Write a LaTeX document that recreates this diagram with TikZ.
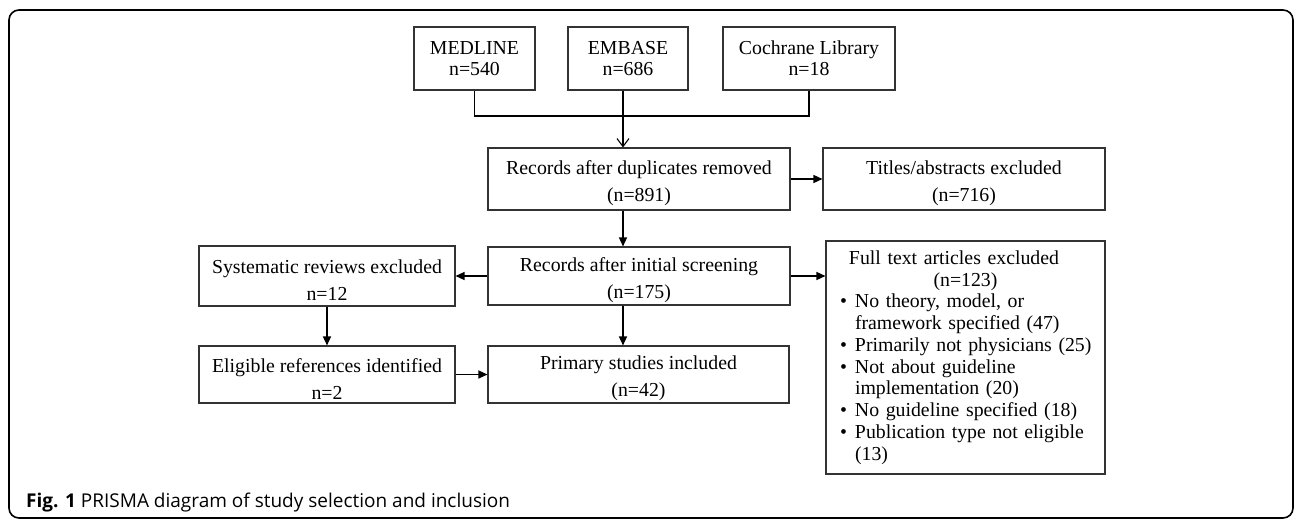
\documentclass[tikz,border=0pt]{standalone}
\usepackage{fontspec}
\setmainfont{Liberation Serif}
\newfontfamily\capfont{Open Sans}
\usetikzlibrary{arrows.meta}
\definecolor{boxgray}{HTML}{333333}
\newcommand\bitem{\par\noindent\hangindent=29pt\hangafter=1\hspace*{14pt}\makebox[15pt][l]{\textbullet}}
\newcommand\tstrut{\rule{0pt}{22pt}}
\begin{document}
\begin{tikzpicture}[x=1pt,y=-1pt,
  box/.style={draw=boxgray,line width=1.1pt,inner sep=0pt,align=center,text=black,
     font=\fontsize{19.8}{24}\selectfont},
  topbox/.style={box,font=\fontsize{19.8}{21}\selectfont},
  conn/.style={line width=1.3pt,black},
  arr/.style={conn,-{Triangle[length=9pt,width=8pt]}},
  openarr/.style={conn,-{Straight Barb[length=8pt,width=12pt,line width=1.1pt]}}
]
\useasboundingbox (0,0) rectangle (1296,520);
\draw[line width=1.6pt,rounded corners=10pt] (9,10) rectangle (1293,518);

\node[topbox,minimum width=121pt,minimum height=63pt] (med) at (474.5,58.5) {MEDLINE\\n=540};
\node[topbox,minimum width=120pt,minimum height=63pt] (emb) at (628,58.5) {EMBASE\\n=686};
\node[topbox,minimum width=172pt,minimum height=63pt] (coch) at (809,58.5) {Cochrane Library\\n=18};

\node[box,minimum width=302pt,minimum height=62pt] (dup) at (639,179) {\tstrut Records after duplicates removed\\[3pt](n=891)};
\node[box,minimum width=282pt,minimum height=62pt] (tit) at (964,179) {\tstrut Titles/abstracts excluded\\[3pt](n=716)};
\node[box,minimum width=302pt,minimum height=58pt] (scr) at (639,276) {\tstrut Records after initial screening\\[3pt](n=175)};
\node[box,minimum width=256pt,minimum height=60pt] (sys) at (327,276) {\tstrut Systematic reviews excluded\\[3pt]n=12};
\node[box,minimum width=301pt,minimum height=57pt] (pri) at (638.5,374.5) {\tstrut Primary studies included\\[3pt](n=42)};
\node[box,minimum width=256pt,minimum height=57pt] (eli) at (327,374.5) {\tstrut Eligible references identified\\[3pt]n=2};
\node[draw=boxgray,line width=1.1pt,inner sep=0pt,text=black,
      minimum width=279pt,minimum height=233pt,text width=279pt,
      font=\fontsize{19.8}{21.75}\selectfont] (ft) at (965.5,357.5) {%
  \centering Full text articles excluded\newline(n=123)\par\raggedright
  \bitem No theory, model, or\newline framework specified (47)
  \bitem Primarily not physicians (25)
  \bitem Not about guideline\newline implementation (20)
  \bitem No guideline specified (18)
  \bitem Publication type not eligible\newline(13)\par};

\coordinate (j) at (623,116);
\draw[conn] (med.south) |- (j) -| (coch.south);
\draw[openarr] (emb.south -| j) -- (dup.north -| j);
\draw[arr] (dup.south -| j) -- (scr.north -| j);
\draw[arr] (scr.south -| j) -- (pri.north -| j);
\draw[arr] (dup.east) -- (dup.east -| tit.west);
\draw[arr] (scr.west) -- (scr.west -| sys.east);
\draw[arr] (scr.east) -- (scr.east -| ft.west);
\draw[arr] (sys.south) -- (eli.north);
\draw[arr] (eli.east) -- (eli.east -| pri.west);

\node[anchor=base west,inner sep=0pt,font=\capfont\fontsize{19}{22}\selectfont] (cap) at (26,507)
  {\textbf{Fig. 1} PRISMA diagram of study selection and inclusion};
\end{tikzpicture}
\end{document}
